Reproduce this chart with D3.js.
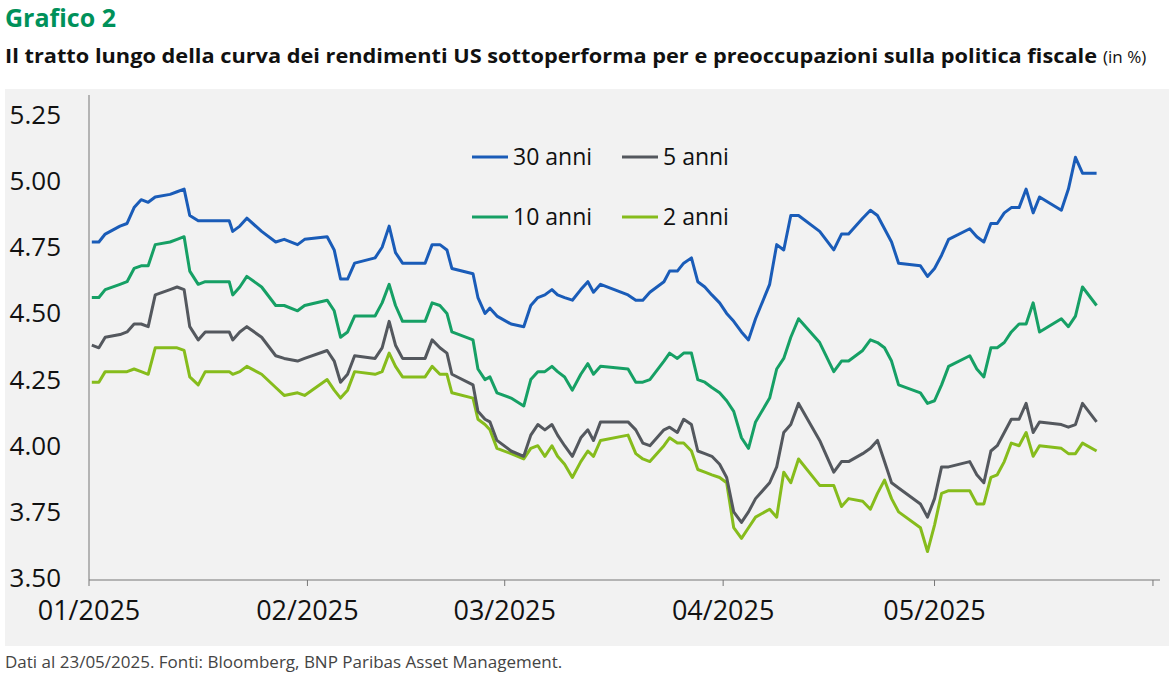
<!DOCTYPE html>
<html><head><meta charset="utf-8">
<script src="https://cdn.jsdelivr.net/npm/d3@7"></script>
<style>
body{margin:0;background:#fff;font-family:"Open Sans",sans-serif;}
</style></head>
<body><svg id="c" width="1174" height="678"></svg>
<script>
// days since 01/01/2025 for each observation
const days = [0.4,1.4,2.3,4.4,5.4,6.4,7.4,8.4,9.4,11.5,12.5,13.5,14.3,15.5,16.5,19.9,20.4,21.4,22.4,24.5,26.5,27.7,29.6,30.6,33.8,34.8,35.7,36.7,37.7,40.6,41.6,42.6,43.5,44.5,47.7,48.7,49.8,50.8,51.5,54.5,55.2,56.2,56.9,57.9,59.9,61.7,62.7,63.7,64.7,65.7,66.5,67.5,68.6,69.8,70.8,71.6,72.6,76.5,77.6,78.6,79.6,81.6,82.4,83.5,84.4,85.5,86.4,87.4,88.4,89.5,90.5,91.5,92.6,93.6,94.6,96.6,97.6,98.6,99.6,100.7,103.7,105.7,106.8,107.8,109.8,110.9,111.9,112.9,113.9,114.9,118,119,120,121,122,125,126,127,128,128.9,129.9,130.9,132,133,134,134.9,138,139,140,141,143];

const y30 = [4.77,4.77,4.80,4.83,4.84,4.90,4.93,4.92,4.94,4.95,4.96,4.97,4.87,4.85,4.85,4.85,4.81,4.83,4.86,4.81,4.77,4.78,4.76,4.78,4.79,4.74,4.63,4.63,4.69,4.71,4.75,4.83,4.73,4.69,4.69,4.76,4.76,4.74,4.67,4.65,4.56,4.50,4.52,4.49,4.46,4.45,4.53,4.56,4.57,4.59,4.57,4.56,4.55,4.59,4.62,4.58,4.61,4.57,4.55,4.55,4.58,4.62,4.66,4.66,4.69,4.71,4.62,4.60,4.57,4.54,4.50,4.47,4.43,4.40,4.48,4.61,4.76,4.74,4.87,4.87,4.81,4.74,4.80,4.80,4.86,4.89,4.87,4.82,4.77,4.69,4.68,4.64,4.67,4.72,4.78,4.82,4.79,4.77,4.84,4.84,4.88,4.90,4.90,4.97,4.88,4.94,4.89,4.97,5.09,5.03,5.03];

const y10 = [4.56,4.56,4.59,4.61,4.62,4.67,4.68,4.68,4.76,4.77,4.78,4.79,4.66,4.61,4.62,4.62,4.57,4.60,4.64,4.60,4.53,4.53,4.51,4.53,4.55,4.51,4.41,4.43,4.49,4.49,4.54,4.61,4.53,4.47,4.47,4.54,4.53,4.50,4.43,4.40,4.29,4.25,4.26,4.20,4.18,4.15,4.25,4.28,4.28,4.30,4.28,4.26,4.21,4.27,4.31,4.27,4.30,4.29,4.24,4.24,4.25,4.32,4.35,4.33,4.35,4.35,4.25,4.24,4.22,4.20,4.17,4.13,4.03,3.99,4.09,4.18,4.29,4.33,4.41,4.48,4.39,4.28,4.32,4.32,4.36,4.40,4.39,4.37,4.32,4.23,4.20,4.16,4.17,4.23,4.30,4.34,4.29,4.26,4.37,4.37,4.39,4.43,4.46,4.46,4.54,4.43,4.48,4.45,4.49,4.60,4.53,4.51];

const y5 = [4.38,4.37,4.41,4.42,4.43,4.46,4.46,4.45,4.57,4.59,4.60,4.59,4.45,4.40,4.43,4.43,4.40,4.43,4.45,4.41,4.34,4.33,4.32,4.33,4.36,4.32,4.24,4.27,4.34,4.33,4.37,4.47,4.38,4.33,4.33,4.40,4.37,4.35,4.27,4.23,4.13,4.10,4.09,4.02,3.98,3.96,4.04,4.08,4.06,4.08,4.04,4.00,3.96,4.03,4.06,4.02,4.09,4.09,4.06,4.01,4.00,4.06,4.07,4.05,4.10,4.08,3.98,3.97,3.96,3.93,3.88,3.75,3.71,3.75,3.80,3.86,3.92,4.05,4.08,4.16,4.02,3.90,3.94,3.94,3.97,3.99,4.02,3.94,3.86,3.84,3.78,3.73,3.80,3.92,3.92,3.94,3.89,3.86,3.98,4.00,4.05,4.10,4.10,4.16,4.05,4.09,4.08,4.07,4.08,4.16,4.09,4.07];

const y2 = [4.24,4.24,4.28,4.28,4.28,4.29,4.28,4.27,4.37,4.37,4.37,4.36,4.26,4.23,4.28,4.28,4.27,4.28,4.30,4.27,4.22,4.19,4.20,4.19,4.25,4.21,4.18,4.21,4.28,4.27,4.28,4.35,4.30,4.26,4.26,4.30,4.27,4.27,4.20,4.18,4.10,4.08,4.06,3.99,3.97,3.95,3.99,4.00,3.96,4.00,3.96,3.93,3.88,3.94,3.98,3.96,4.02,4.04,3.97,3.95,3.94,4.00,4.03,4.01,4.01,3.98,3.91,3.90,3.89,3.88,3.86,3.69,3.65,3.69,3.73,3.76,3.73,3.90,3.86,3.95,3.85,3.85,3.77,3.80,3.79,3.76,3.82,3.87,3.80,3.75,3.69,3.60,3.70,3.82,3.83,3.83,3.78,3.78,3.88,3.89,3.94,4.01,4.00,4.05,3.96,4.00,3.99,3.97,3.97,4.01,3.98,3.99];

const monthStarts = [0,31,59,90,120];
const monthLabels = ["01/2025","02/2025","03/2025","04/2025","05/2025"];
const yTicks = [3.50,3.75,4.00,4.25,4.50,4.75,5.00,5.25];

const series = [
  {name:"30 anni", values:y30, color:"#1a5cb8"},
  {name:"5 anni", values:y5, color:"#54585e"},
  {name:"10 anni", values:y10, color:"#16a065"},
  {name:"2 anni", values:y2, color:"#86bc1c"}
];

const svg = d3.select("#c");
const font = "'Open Sans', sans-serif";

svg.append("text").attr("x",5).attr("y",27).attr("fill","#00915a")
  .attr("font-family",font).attr("font-weight","bold").attr("font-size",25).text("Grafico 2");
const sub = svg.append("text").attr("x",5).attr("y",63).attr("font-family",font).attr("font-size",19).attr("fill","#111");
sub.append("tspan").attr("font-weight","bold").attr("textLength",1092).attr("lengthAdjust","spacingAndGlyphs")
  .text("Il tratto lungo della curva dei rendimenti US sottoperforma per e preoccupazioni sulla politica fiscale");
sub.append("tspan").attr("x",1103).attr("font-size",17).text("(in %)");

svg.append("rect").attr("x",5).attr("y",89).attr("width",1164).attr("height",557).attr("fill","#f2f2f2");

const x = d3.scaleLinear().domain([0,152]).range([89,1160]);
const y = d3.scaleLinear().domain([3.5,5.25]).range([578,115]);

// y axis labels
svg.append("g").selectAll("text").data(yTicks).join("text")
  .attr("x",61).attr("y",d=>y(d)+9).attr("text-anchor","end")
  .attr("font-family",font).attr("font-size",26).attr("fill","#111")
  .text(d=>d.toFixed(2));

svg.append("line").attr("x1",89).attr("x2",89).attr("y1",95).attr("y2",580).attr("stroke","#777");
svg.append("line").attr("x1",89).attr("x2",1160).attr("y1",580).attr("y2",580).attr("stroke","#777");
svg.append("g").selectAll("line").data(monthStarts.concat([151])).join("line")
  .attr("x1",d=>x(d)).attr("x2",d=>x(d)).attr("y1",580).attr("y2",586).attr("stroke","#777");
svg.append("g").selectAll("text").data(monthStarts).join("text")
  .attr("x",d=>x(d)).attr("y",620).attr("text-anchor","middle")
  .attr("font-family",font).attr("font-size",27).attr("fill","#111")
  .text((d,i)=>monthLabels[i]);

const line = d3.line().x((d,i)=>x(days[i])).y(d=>y(d));
svg.append("g").selectAll("path").data(series.slice().reverse()).join("path")
  .attr("d",d=>line(d.values)).attr("fill","none")
  .attr("stroke",d=>d.color).attr("stroke-width",3).attr("stroke-linejoin","round");

// legend
const lg = svg.append("g").selectAll("g").data(series).join("g")
  .attr("transform",(d,i)=>`translate(${[472,622][i%2]},${[157,217][Math.floor(i/2)]})`);
lg.append("line").attr("x1",0).attr("x2",36).attr("stroke",d=>d.color).attr("stroke-width",3);
lg.append("text").attr("x",41).attr("y",8).attr("font-family",font).attr("font-size",23).attr("fill","#111").text(d=>d.name);

svg.append("text").attr("x",5).attr("y",668).attr("font-family",font).attr("font-size",17).attr("fill","#444")
  .text("Dati al 23/05/2025. Fonti: Bloomberg, BNP Paribas Asset Management.");
</script></body></html>
